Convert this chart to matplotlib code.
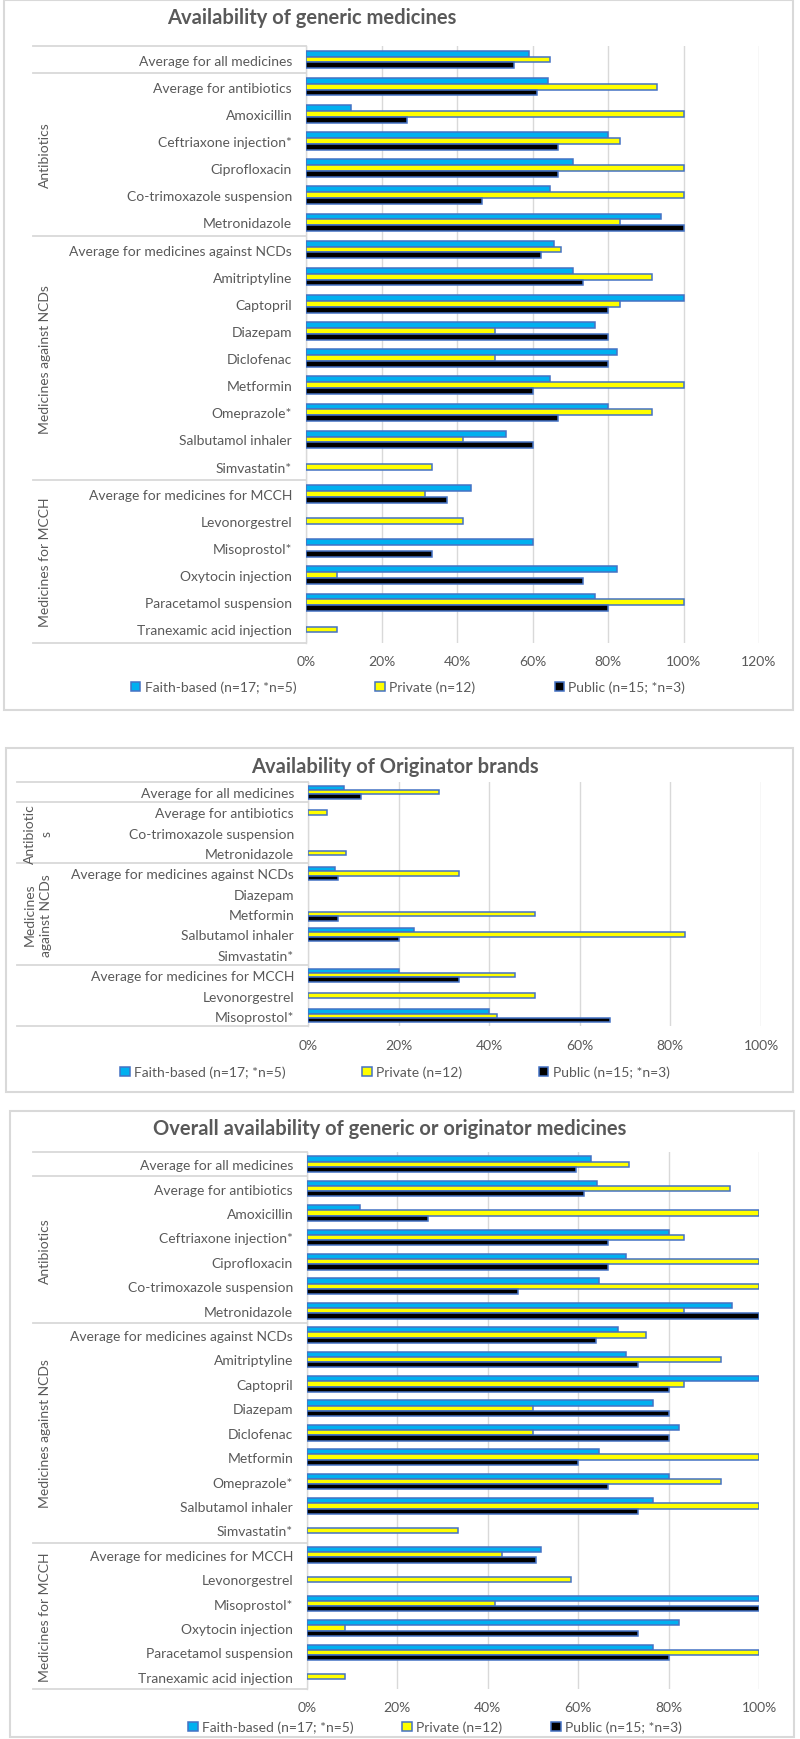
import numpy as np
import matplotlib
matplotlib.use("Agg")
import matplotlib.pyplot as plt
from matplotlib.patches import Rectangle, Patch

plt.rcParams["font.family"] = ["Lato", "DejaVu Sans"]

# ---- data (percent of outlets) ----
categories_full = [
    "Average for all medicines", "Average for antibiotics", "Amoxicillin",
    "Ceftriaxone injection*", "Ciprofloxacin", "Co-trimoxazole suspension",
    "Metronidazole", "Average for medicines against NCDs", "Amitriptyline",
    "Captopril", "Diazepam", "Diclofenac", "Metformin", "Omeprazole*",
    "Salbutamol inhaler", "Simvastatin*", "Average for medicines for MCCH",
    "Levonorgestrel", "Misoprostol*", "Oxytocin injection",
    "Paracetamol suspension", "Tranexamic acid injection",
]
generic_faith = [59.2, 64.2, 11.8, 80, 70.6, 64.7, 94.1, 65.8, 70.6, 100, 76.5,
                 82.4, 64.7, 80, 52.9, 0, 43.8, 0, 60, 82.4, 76.5, 0]
generic_private = [64.7, 93.1, 100, 83.3, 100, 100, 83.3, 67.6, 91.7, 83.3, 50,
                   50, 100, 91.7, 41.7, 33.3, 31.5, 41.7, 0, 8.3, 100, 8.3]
generic_public = [55, 61.1, 26.7, 66.7, 66.7, 46.7, 100, 62.3, 73.3, 80, 80,
                  80, 60, 66.7, 60, 0, 37.3, 0, 33.3, 73.3, 80, 0]

categories_orig = [
    "Average for all medicines", "Average for antibiotics",
    "Co-trimoxazole suspension", "Metronidazole",
    "Average for medicines against NCDs", "Diazepam", "Metformin",
    "Salbutamol inhaler", "Simvastatin*", "Average for medicines for MCCH",
    "Levonorgestrel", "Misoprostol*",
]
orig_faith = [7.9, 0, 0, 0, 5.9, 0, 0, 23.5, 0, 20, 0, 40]
orig_private = [29, 4.2, 0, 8.3, 33.3, 0, 50, 83.3, 0, 45.8, 50, 41.7]
orig_public = [11.7, 0, 0, 0, 6.7, 0, 6.7, 20, 0, 33.3, 0, 66.7]

overall_faith = [62.8, 64.2, 11.8, 80, 70.6, 64.7, 94.1, 68.8, 70.6, 100, 76.5,
                 82.4, 64.7, 80, 76.5, 0, 51.7, 0, 100, 82.4, 76.5, 0]
overall_private = [71.2, 93.5, 100, 83.3, 100, 100, 83.3, 74.9, 91.7, 83.3, 50,
                   50, 100, 91.7, 100, 33.3, 43.2, 58.3, 41.7, 8.3, 100, 8.3]
overall_public = [59.5, 61.3, 26.7, 66.7, 66.7, 46.7, 100, 64, 73.3, 80, 80,
                  80, 60, 66.7, 73.3, 0, 50.6, 0, 100, 73.3, 80, 0]

series_names = ["Faith-based (n=17; *n=5)", "Private (n=12)", "Public (n=15; *n=3)"]

# groups: (label, first row, last row)
groups_full = [("Antibiotics", 1, 6), ("Medicines against NCDs", 7, 15),
               ("Medicines for MCCH", 16, 21)]
groups_orig = [("Antibiotic\ns", 1, 3), ("Medicines\nagainst NCDs", 4, 8),
               ("", 9, 11)]

# ---- style ----
TXT = "#595959"
GRID = "#D9D9D9"
EDGE = "#4472C4"
colors = ["#00B0F0", "#FFFF00", "#000000"]
FS = 10

W, H = 800, 1740
fig = plt.figure(figsize=(8, 17.4), dpi=100)


def fx(px):
    return px / W


def fy(py):
    return 1 - py / H


def panel(box, title, title_xy, area, xmax, cats, series, groups, sep_left,
          group_x, legend_xy, colspace):
    # frame of the chart
    x0, y0, x1, y1 = box
    fig.add_artist(Rectangle((fx(x0), fy(y1)), fx(x1) - fx(x0), fy(y0) - fy(y1),
                             transform=fig.transFigure, fill=False,
                             edgecolor=GRID, lw=1.5))
    fig.text(fx(title_xy[0]), fy(title_xy[1]), title, ha="center", va="center",
             fontsize=14.5, fontweight="bold", color=TXT)

    al, at, ar, ab = area
    ax = fig.add_axes([fx(al), fy(ab), fx(ar) - fx(al), fy(at) - fy(ab)])
    n = len(cats)
    pos = np.arange(n)
    h = 0.215
    for k, vals in enumerate(series):
        lw = [1.1 if v > 0 else 0 for v in vals]
        ax.barh(pos + (k - 1) * h, vals, height=h, color=colors[k],
                edgecolor=EDGE, linewidth=lw, zorder=3)

    ax.set_ylim(n - 0.5, -0.5)
    ax.set_xlim(0, xmax)
    ax.set_xticks(np.arange(0, xmax + 1, 20))
    ax.set_xticklabels([f"{int(t)}%" for t in np.arange(0, xmax + 1, 20)])
    ax.set_yticks(pos)
    ax.set_yticklabels(cats)
    ax.tick_params(axis="y", length=0, pad=10, labelsize=FS, labelcolor=TXT)
    ax.tick_params(axis="x", length=0, pad=9, labelsize=FS, labelcolor=TXT)
    ax.xaxis.grid(True, color=GRID, lw=1)
    ax.set_axisbelow(True)
    for s in ["top", "right", "bottom"]:
        ax.spines[s].set_visible(False)
    ax.spines["left"].set_color(GRID)
    ax.spines["left"].set_linewidth(1)

    # multi-level category axis: separators and group names
    width_px = ar - al
    tr = ax.get_yaxis_transform()
    bounds = [-0.5, 0.5] + [g[2] + 0.5 for g in groups]
    for b in bounds:
        ax.plot([(sep_left - al) / width_px, 0], [b, b], transform=tr,
                color=GRID, lw=1.3, clip_on=False)
    for name, a, b in groups:
        ax.text((group_x - al) / width_px, (a + b) / 2, name, rotation=90,
                ha="center", va="center", transform=tr, fontsize=FS,
                color=TXT, linespacing=1.45, multialignment="center")

    handles = [Patch(facecolor=colors[k], edgecolor=EDGE, lw=1.1,
                     label=series_names[k]) for k in range(3)]
    ax.legend(handles=handles, loc="center",
              bbox_to_anchor=(fx(legend_xy[0]), fy(legend_xy[1])),
              bbox_transform=fig.transFigure, ncol=3, frameon=False,
              fontsize=FS, labelcolor=TXT, handlelength=0.7, handleheight=0.7,
              handletextpad=0.3, columnspacing=colspace, borderpad=0)
    return ax


panel((4, 1, 793, 711), "Availability of generic medicines", (312, 18),
      (306, 47, 759, 644), 120, categories_full,
      [generic_faith, generic_private, generic_public], groups_full,
      33, 45, (408, 688), 5.7)

panel((6, 749, 793, 1093), "Availability of Originator brands", (395, 767),
      (308, 783, 761, 1027), 100, categories_orig,
      [orig_faith, orig_private, orig_public], groups_orig,
      17, 38, (395, 1073), 5.5)

panel((10, 1112, 794, 1738), "Overall availability of generic or originator medicines",
      (390, 1129), (307, 1153, 759, 1690), 100, categories_full,
      [overall_faith, overall_private, overall_public], groups_full,
      33, 45, (435, 1728), 3.5)

fig.savefig("out.png", dpi=100, facecolor="white")
